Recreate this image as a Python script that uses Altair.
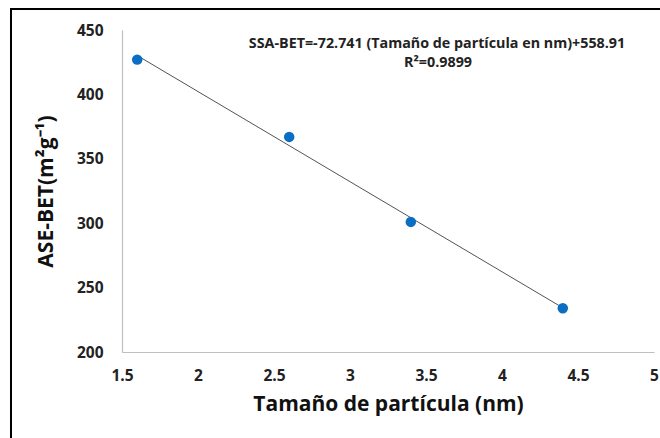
import altair as alt
import pandas as pd

particle_nm = [1.6, 2.6, 3.4, 4.4]
ase_bet = [427, 367, 301, 234]
x_ticks = [1.5, 2, 2.5, 3, 3.5, 4, 4.5, 5]
y_ticks = [200, 250, 300, 350, 400, 450]
eq_line1 = "SSA-BET=-72.741 (Tamaño de partícula en nm)+558.91"
eq_line2 = "R²=0.9899"

df = pd.DataFrame({"x": particle_nm, "y": ase_bet})
FONT = "Open Sans"

base = alt.Chart(df)

xenc = alt.X("x:Q", scale=alt.Scale(domain=[1.5, 5], nice=False, zero=False),
             axis=alt.Axis(values=x_ticks, format="~g", title="Tamaño de partícula (nm)", grid=False,
                           ticks=False, domainColor="#bfbfbf", domainWidth=1.2,
                           labelFont=FONT, labelFontWeight="bold", labelFontSize=15.5,
                           labelColor="#222", labelPadding=16, labelFlush=False,
                           titleFont=FONT, titleFontWeight="bold", titleFontSize=21,
                           titleColor="#111", titlePadding=10))
yenc = alt.Y("y:Q", scale=alt.Scale(domain=[200, 450], nice=False, zero=False),
             axis=alt.Axis(values=y_ticks, title="ASE-BET(m²g⁻¹)", grid=False,
                           ticks=False, domainColor="#bfbfbf", domainWidth=1.2,
                           labelFont=FONT, labelFontWeight="bold", labelFontSize=15.5,
                           labelColor="#222", labelPadding=19, labelFlush=False,
                           titleFont=FONT, titleFontWeight="bold", titleFontSize=21,
                           titleColor="#111", titlePadding=20))

points = base.mark_circle(size=110, color="#0a6fc2", opacity=1).encode(x=xenc, y=yenc)

trend = base.transform_regression("x", "y", extent=[1.6, 4.4]).mark_line(
    color="#404040", strokeWidth=0.9).encode(x=xenc, y=yenc)

eq1 = alt.Chart(pd.DataFrame({"t": [eq_line1]})).mark_text(
    font=FONT, fontWeight="bold", fontSize=14.3, color="#222",
    align="center", baseline="middle").encode(text="t:N", x=alt.value(315), y=alt.value(14))
eq2 = alt.Chart(pd.DataFrame({"t": [eq_line2]})).mark_text(
    font=FONT, fontWeight="bold", fontSize=14.3, color="#222",
    align="center", baseline="middle").encode(text="t:N", x=alt.value(316), y=alt.value(33))

frame = alt.Chart(pd.DataFrame({"t": [0]})).mark_rect(fill=None, stroke="#000", strokeWidth=2).encode(
    x=alt.value(-111), x2=alt.value(560), y=alt.value(-21), y2=alt.value(430))

chart = alt.layer(trend, points, eq1, eq2, frame).properties(
    width=532, height=322,
    autosize=alt.AutoSizeParams(type="none"),
    padding={"left": 122, "top": 30, "right": 6, "bottom": 86},
    background="white",
).configure_view(stroke=None)

chart.save("out.html", embed_options={"renderer": "svg", "actions": False})
